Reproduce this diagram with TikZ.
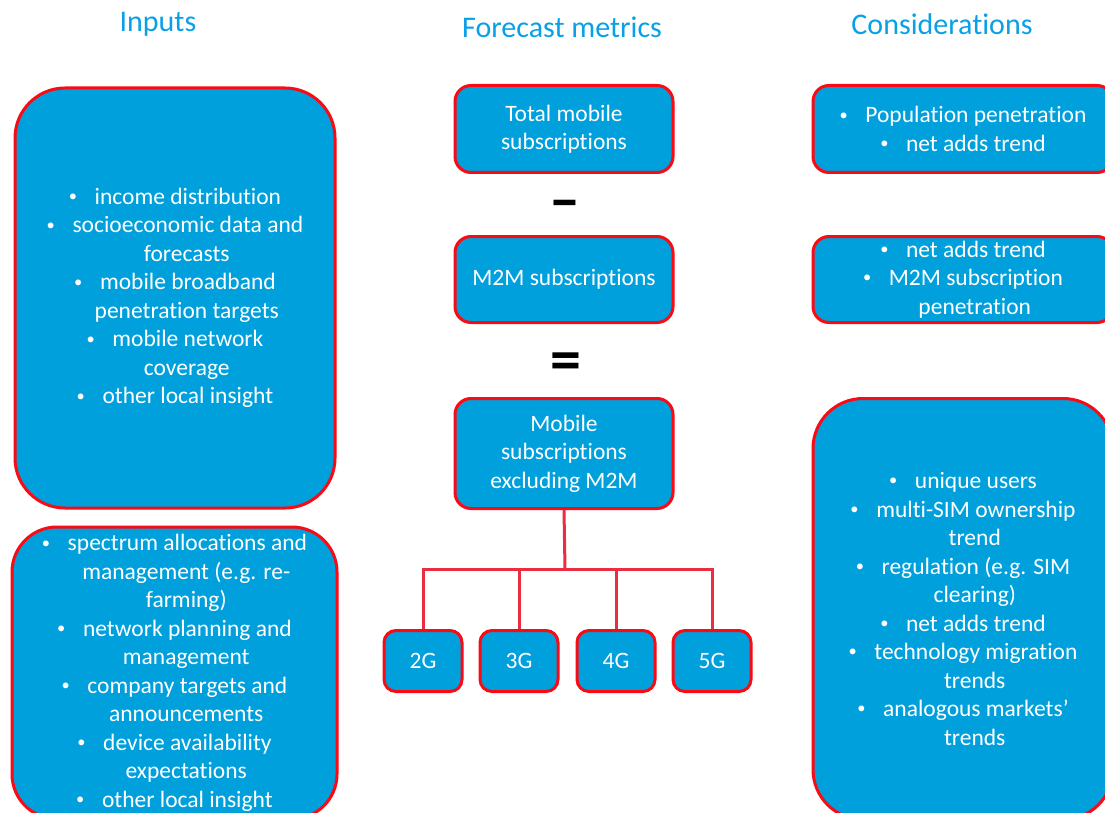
\documentclass[tikz,border=0pt]{standalone}
\usepackage{graphicx}
\usepackage{fontspec}
\setmainfont{Carlito}[Ligatures=NoCommon]
\definecolor{boxblue}{RGB}{0, 160, 220}
\definecolor{titleblue}{RGB}{10, 160, 230}
\definecolor{rimred}{RGB}{250, 10, 20}
\definecolor{treered}{RGB}{235, 45, 65}
\newcommand{\bodyfont}{\fontsize{23.5}{28.5}\selectfont}
\newcommand{\headfont}{\fontsize{30}{34}\selectfont}
\newcommand{\signfont}{\fontsize{62}{62}\selectfont\bfseries}
\newcommand{\bul}{\raisebox{0.12em}{\scalebox{0.7}{\textbullet}}\hspace{0.75em}}
\newcommand{\cont}{\hspace*{1em}}

\begin{document}
\begin{tikzpicture}[x=1pt, y=-1pt,
    panel/.style={draw=rimred, fill=boxblue, line width=3pt, rounded corners=#1,
                  text=white, align=center, inner sep=0pt, font=\bodyfont},
    panel/.default=16pt,
    heading/.style={text=titleblue, font=\headfont},
    sign/.style={font=\signfont},
    treeline/.style={draw=treered, line width=3pt}]
            % Frame, boxes on the right and bottom run off the page:
            \useasboundingbox (0,0) rectangle (1105,813);
            \clip (0,0) rectangle (1105,813);
            \fill[white] (0,0) rectangle (1105,813);

            % Column headings
            \node[heading] (hinputs) at (158, 24) {Inputs};
            \node[heading] (hmetrics) at (562, 27) {Forecast metrics};
            \node[heading] (hconsid) at (942, 24) {Considerations};

            % Inputs
            \node[panel=50pt, minimum width=320pt, minimum height=420pt] (inmarket) at (175, 298)
                 {\bul income distribution\\ \bul socioeconomic data and\\ \cont forecasts\\
                  \bul mobile broadband\\ \cont penetration targets\\ \bul mobile network\\
                  \cont coverage\\ \bul other local insight};
            \node[panel=45pt, minimum width=325pt, minimum height=292pt] (inoperator) at (174.5, 673)
                 {\bul spectrum allocations and\\ \cont management (e.g. re-\\ \cont farming)\\
                  \bul network planning and\\ \cont management\\ \bul company targets and\\
                  \cont announcements\\ \bul device availability\\ \cont expectations\\
                  \bul other local insight};

            % Forecast metrics
            \node[panel, minimum width=218pt, minimum height=87pt] (total) at (564, 129)
                 {Total mobile\\ subscriptions};
            \node[sign] (minus) at (565, 210) {–};
            \node[panel, minimum width=218pt, minimum height=86pt] (mtom) at (564, 279.5)
                 {M2M subscriptions};
            \node[sign] (equals) at (566, 367) {=};
            \node[panel, minimum width=218pt, minimum height=110pt] (mobile) at (564, 453.5)
                 {Mobile\\ subscriptions\\ excluding M2M};
            \foreach \g/\x in {2/423, 3/519, 4/616, 5/712}
                \node[panel=12pt, minimum width=78pt, minimum height=61pt] (g\g) at (\x, 661) {\g G};

            \coordinate (hub) at (565, 569);
            \draw[treeline] (mobile.south) -- (hub);
            \foreach \g in {2,3,4,5}
                \draw[treeline] (hub) -| (g\g.north);

            % Considerations
            \node[panel, minimum width=300pt, minimum height=87pt] (cntotal) at (963, 129)
                 {\bul Population penetration\\ \bul net adds trend};
            \node[panel, minimum width=300pt, minimum height=86pt] (cnmtom) at (963, 279.5)
                 {\bul net adds trend\\ \bul M2M subscription\\ \cont penetration};
            \node[panel=50pt, minimum width=300pt, minimum height=421pt] (cnmobile) at (963, 609)
                 {\bul unique users\\ \bul multi-SIM ownership\\ \cont trend\\
                  \bul regulation (e.g. SIM\\ \cont clearing)\\ \bul net adds trend\\
                  \bul technology migration\\ \cont trends\\ \bul analogous markets’\\ \cont trends};
        \end{tikzpicture}
\end{document}
